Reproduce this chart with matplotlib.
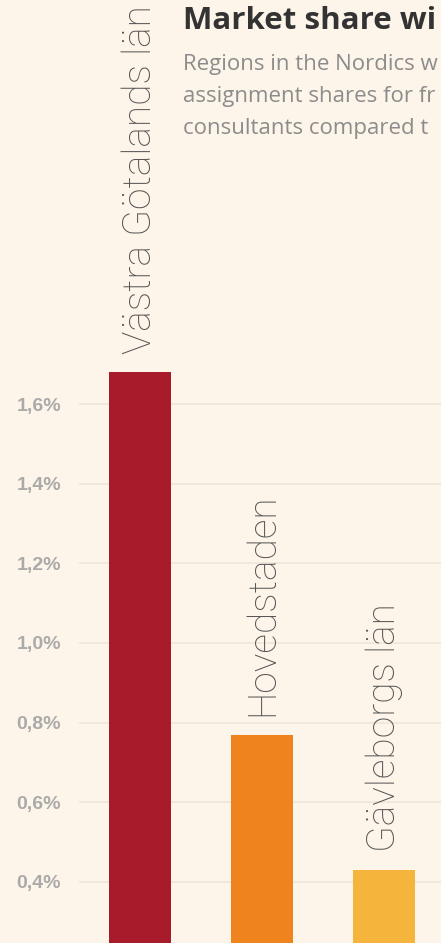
import matplotlib.pyplot as plt
from matplotlib.ticker import FuncFormatter

regions = ["Västra Götalands län", "Hovedstaden", "Gävleborgs län"]
share = [1.68, 0.77, 0.43]  # market share, %
bar_colors = ["#A81B2A", "#EF841F", "#F5B43B"]
yticks = [0.4, 0.6, 0.8, 1.0, 1.2, 1.4, 1.6]

title = "Market share wi"
subtitle = ["Regions in the Nordics w", "assignment shares for fr", "consultants compared t"]

bg = "#FDF5E9"
W, H = 441, 943
fig = plt.figure(figsize=(W / 100, H / 100), dpi=100, facecolor=bg)
ax = fig.add_axes([79 / W, 0, 1 - 79 / W, 1], facecolor=bg)

ax.bar(range(len(regions)), share, width=0.508, color=bar_colors, zorder=2)
for i, (name, v) in enumerate(zip(regions, share)):
    ax.annotate(name, (i, v), xytext=(0, 13), textcoords="offset points",
                rotation=90, ha="center", va="bottom", fontsize=28,
                family="Roboto", fontweight="light", color="#555555")

ax.set_yticks(yticks)
ax.set_xlim(-0.5, 2.467)
ax.set_ylim(0.246, 2.616)
ax.yaxis.set_major_formatter(FuncFormatter(lambda v, _: f"{v:.1f}%".replace(".", ",")))
ax.tick_params(axis="y", length=0, pad=13, labelsize=14, labelcolor="#AAAAAA")
for lbl in ax.get_yticklabels():
    lbl.set_fontweight("bold")
    lbl.set_family("Liberation Sans")
ax.set_xticks([])
ax.grid(axis="y", color="#EFE7DB", linewidth=1.3, zorder=0)
for s in ax.spines.values():
    s.set_visible(False)

fig.text(183 / W, 1 - 29 / H, title, fontsize=22.5, fontweight="bold",
         family="Open Sans", color="#333333", va="baseline")
for k, line in enumerate(subtitle):
    fig.text(183 / W, 1 - (70 + 32 * k) / H, line, fontsize=16, family="Open Sans",
             color="#8C8C8C", va="baseline")

fig.savefig("out.png", dpi=100, facecolor=bg)
